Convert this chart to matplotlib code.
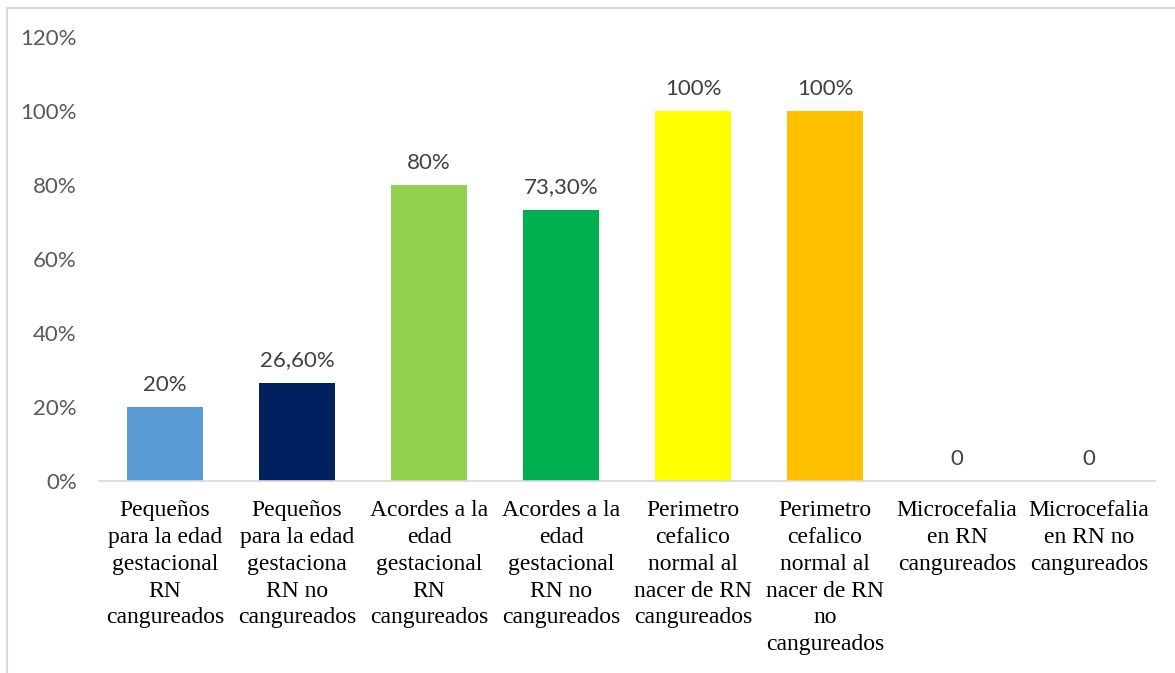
import matplotlib.pyplot as plt
from matplotlib.patches import Rectangle

categories = [
    "Pequeños\npara la edad\ngestacional\nRN\ncangureados",
    "Pequeños\npara la edad\ngestaciona\nRN no\ncangureados",
    "Acordes a la\nedad\ngestacional\nRN\ncangureados",
    "Acordes a la\nedad\ngestacional\nRN no\ncangureados",
    "Perimetro\ncefalico\nnormal al\nnacer de RN\ncangureados",
    "Perimetro\ncefalico\nnormal al\nnacer de RN\nno\ncangureados",
    "Microcefalia\nen RN\ncangureados",
    "Microcefalia\nen RN no\ncangureados",
]
values = [20, 26.6, 80, 73.3, 100, 100, 0, 0]
value_labels = ["20%", "26,60%", "80%", "73,30%", "100%", "100%", "0", "0"]
bar_colors = ["#5B9BD5", "#002060", "#92D050", "#00B050",
              "#FFFF00", "#FFC000", "#A5A5A5", "#A5A5A5"]
y_ticks = [0, 20, 40, 60, 80, 100, 120]

fig = plt.figure(figsize=(11.75, 6.73), dpi=100)
ax = fig.add_axes([0.0843, 0.2853, 0.8987, 0.6597])

x = list(range(len(categories)))
ax.bar(x, values, width=0.58, color=bar_colors)

for xi, v, lab in zip(x, values, value_labels):
    ax.text(xi, v + 3.3, lab, ha="center", va="bottom",
            fontsize=16, family="Lato", color="#404040")

ax.set_xlim(-0.5, len(categories) - 0.5)
ax.set_ylim(0, 120)
ax.set_yticks(y_ticks)
ax.set_yticklabels([f"{t}%" for t in y_ticks], family="Lato",
                   fontsize=16, color="#595959")
ax.set_xticks(x)
ax.set_xticklabels(categories, family="Liberation Serif", fontsize=17,
                   color="black", linespacing=1.36, va="top")
ax.tick_params(axis="both", length=0)
ax.tick_params(axis="x", pad=14)
ax.tick_params(axis="y", pad=16)

for side in ("top", "right", "left"):
    ax.spines[side].set_visible(False)
ax.spines["bottom"].set_color("#D9D9D9")
ax.spines["bottom"].set_linewidth(1.2)

# chart frame (only the top and left edges fall inside the image)
fig.patches.append(Rectangle((7 / 1175, -0.1), 1.2, 1 - 8 / 673 + 0.1,
                             transform=fig.transFigure, fill=False,
                             edgecolor="#D9D9D9", linewidth=1.5))

fig.savefig("out.png", dpi=100)
